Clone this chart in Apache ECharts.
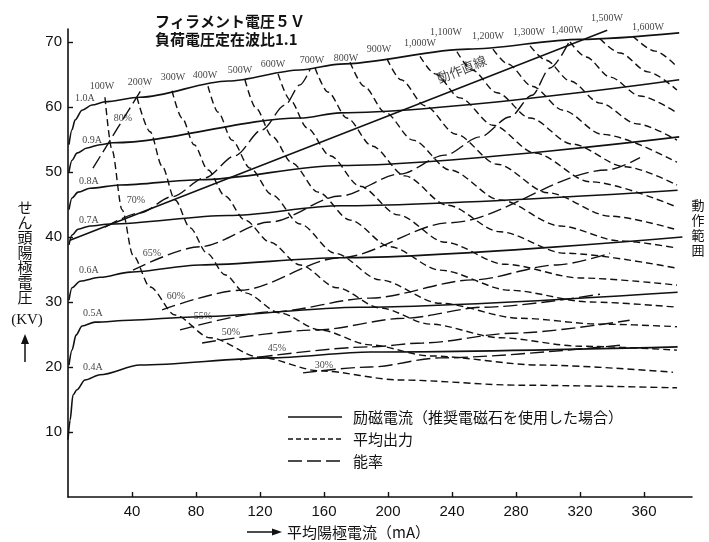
<!DOCTYPE html>
<html><head><meta charset="utf-8">
<script src="https://cdn.jsdelivr.net/npm/echarts@6/dist/echarts.min.js"></script>
<style>html,body{margin:0;padding:0;background:#fff}#c{width:709px;height:542px}</style>
</head><body><div id="c"></div>
<script>
// ---- axis ticks ----
const xTicks = [40, 80, 120, 160, 200, 240, 280, 320, 360];
const yTicks = [10, 20, 30, 40, 50, 60, 70];

// ---- excitation current curves (mA, KV) ----
const exc04 = [[0,8.8],[1.3,11.8],[3.1,15.7],[5.6,16.5],[10.6,18.0],[20,18.8],[45,20.3],[126,21.4],[189,22.3],[381,23.1]];
const exc05 = [[0.6,20.3],[2.5,22.6],[5,24.9],[8.8,26.3],[16.9,26.9],[38.8,27.2],[78,27.7],[182,29.2],[381,31.5]];
const exc06 = [[0.6,30.3],[2.5,32.2],[7.5,33.2],[20,33.8],[38.8,34.6],[82.5,35.7],[170,36.8],[384,40.0]];
const exc07 = [[0.6,38.8],[2.5,40.3],[6.3,41.2],[13.8,41.7],[26.3,42.0],[100,43.3],[170,44.8],[381,47.2]];
const exc08 = [[0.6,44.2],[2.5,46.0],[6.3,46.9],[13.8,47.5],[32.5,48.0],[82.5,48.8],[170,51.0],[382,55.4]];
const exc09 = [[0.6,50.0],[2.5,51.8],[5.6,52.9],[11.9,53.7],[20,54.2],[28.1,54.5],[145,58.3],[170,59.1],[382,64.2]];
const exc10 = [[0.6,54.2],[2.5,56.5],[4.4,58.0],[8.8,59.5],[15,60.3],[23.1,60.8],[45,61.5],[100,64.0],[145,65.7],[170,66.6],[250,68.9],[320,70.4],[382,71.4]];
const excNames = ['0.4A','0.5A','0.6A','0.7A','0.8A','0.9A','1.0A'];
const excLabelPos = [[15.6,20.0],[15.6,28.2],[13.1,34.9],[13.1,42.6],[13.1,48.5],[15,54.9],[10.6,61.4]];

// ---- operating line ----
const opLine = [[1.25,39.5],[337,71.8]];

// ---- average output power curves ----
const pw100 = [[23.1,61.5],[27.5,53.4],[33.8,44.2],[40.6,37.2],[51.3,32.3],[66.9,28.0],[88.8,24.5],[120,21.5],[157.5,19.4],[207.5,18.0],[282.5,17.2],[380.6,16.8]];
const pw200 = [[43.1,61.5],[51.3,56.2],[58.8,50.9],[66.9,45.7],[76.3,41.4],[86.9,37.5],[98.1,34.2],[110.6,31.4],[132.5,28.3],[157.5,25.7],[188.8,23.4],[226.3,21.7],[295,20.3],[378.1,19.2]];
const pw300 = [[65,62.5],[71.3,58.3],[78.8,54.2],[87.5,50.3],[98.1,46.3],[110.6,42.6],[126.3,39.2],[145,35.7],[168.1,32.2],[195,29.1],[226.3,26.6],[270,24.5],[320,23.2],[380.6,22.6]];
const pw400 = [[87.5,63.2],[93.8,59.2],[102.5,54.9],[113.8,50.6],[127.5,46.5],[145,42.0],[166.9,37.5],[195,33.4],[232.5,29.8],[282.5,27.5],[332.5,26.6],[380.6,26.2]];
const pw500 = [[110.6,64.2],[117.5,59.8],[127.5,55.5],[140,51.4],[156.3,46.9],[176.3,42.6],[201.3,38.5],[232.5,34.9],[276.3,31.8],[326.3,30.0],[380.6,29.2]];
const pw600 = [[131.3,65.1],[138.8,61.1],[149.4,56.8],[163.8,52.5],[182.5,47.8],[206.3,43.4],[235.6,39.2],[273.1,35.8],[320,33.7],[380.6,32.6]];
const pw700 = [[154.4,66.0],[162.5,62.3],[174.4,58.3],[190,54.0],[210.6,49.4],[236.9,44.9],[270,40.8],[310.6,37.5],[380.6,35.2]];
const pw800 = [[176.3,66.9],[185,63.2],[198.1,59.2],[215.6,54.9],[238.8,50.3],[270,45.7],[307.5,41.7],[345,39.4],[380.6,38.3]];
const pw900 = [[199.4,67.4],[208.1,64.2],[223.1,60.2],[242.5,55.8],[268.1,51.2],[300,46.8],[338.8,43.2],[380.6,41.1]];
const pw1000 = [[220,67.8],[229.4,65.1],[245,61.4],[265.6,57.2],[291.9,52.9],[326.3,48.5],[380.6,44.6]];
const pw1100 = [[243.1,68.5],[252.5,65.7],[268.1,62.2],[288.8,58.3],[315,54.3],[348.1,50.8],[380.6,48.0]];
const pw1200 = [[265.6,68.9],[275,66.6],[290,63.2],[309.4,59.5],[333.8,55.8],[380.6,51.5]];
const pw1300 = [[288.8,69.4],[298.8,67.2],[313.8,64.0],[332.5,60.6],[355.6,57.4],[380.6,54.9]];
const pw1400 = [[313.8,70.0],[323.8,67.7],[338.8,64.6],[357.5,61.7],[380.6,59.1]];
const pw1500 = [[332.5,70.5],[345,68.3],[362.5,65.4],[380.6,62.6]];
const pw1600 = [[353.1,70.9],[366.9,68.6],[380.6,66.2]];
const pwNames = ['100W','200W','300W','400W','500W','600W','700W','800W','900W','1,000W','1,100W','1,200W','1,300W','1,400W','1,500W','1,600W'];
const pwLabelPos = [[21.3,63.1],[45,63.8],[65.6,64.6],[85.6,64.8],[107.5,65.7],[128.1,66.5],[152.5,67.2],[173.8,67.5],[194.4,68.8],[220,69.8],[236.3,71.5],[262.5,70.9],[288.1,71.5],[311.9,71.8],[336.9,73.7],[362.5,72.3]];

// ---- efficiency curves ----
const ef80 = [[15.6,50.6],[46.9,63.1]];
const ef70 = [[23.1,41.5],[45,43.7],[65,46.2],[85.6,49.1],[104.4,52.5],[121.3,56.5],[135.6,60.3],[145,63.4],[151.3,65.8]];
const ef65 = [[40.6,34.9],[82.5,38.5],[126.3,42.3],[170,46.3],[207.5,49.7],[235.6,52.6],[257.5,55.4],[276.3,58.5],[290,61.8],[301.3,66.0],[313.8,70.3]];
const ef60 = [[58.8,28.8],[107.5,31.8],[170,36.8],[238.8,42.2],[336.9,50.3],[357.5,52.2]];
const ef55 = [[70,25.7],[128,28.5],[188.8,30.6],[253,33.4],[305.6,35.7],[338.8,37.5]];
const ef50 = [[83.8,23.7],[155.6,25.7],[210,27.5],[260,29.2],[332.5,31.2]];
const ef45 = [[107.5,21.1],[188.8,23.1],[221.9,23.7],[278,25.2],[351,27.2]];
const ef30 = [[146.9,19.1],[188.8,20],[232.5,21.4],[346.9,23.4]];
const efNames = ['80%','70%','65%','60%','55%','50%','45%','30%'];
const efLabelPos = [[34.4,58.3],[42.5,45.7],[52.5,37.5],[67.5,30.9],[84.4,27.8],[101.9,25.4],[130.6,22.8],[160,20.3]];

const opLabel = ['動作直線', 246, 65.8];

// ---------------------------------------------------------------
const INK = '#111';
const chart = echarts.init(document.getElementById('c'), null, {renderer: 'canvas'});
const series = [];
function addLine(data, type, width) {
  series.push({
    type: 'line', data: data, symbol: 'none', smooth: 0.3, smoothMonotone: 'x',
    lineStyle: {color: INK, width: width, type: type}, silent: true, z: 3
  });
}
[exc04, exc05, exc06, exc07, exc08, exc09, exc10].forEach(d => addLine(d, 'solid', 1.6));
addLine(opLine, 'solid', 1.5);
[pw100, pw200, pw300, pw400, pw500, pw600, pw700, pw800, pw900, pw1000, pw1100, pw1200, pw1300, pw1400, pw1500, pw1600]
  .forEach(d => addLine(d, [7, 4], 1.4));
[ef80, ef70, ef65, ef60, ef55, ef50, ef45, ef30].forEach(d => addLine(d, [14, 5], 1.4));

function addLabels(names, pos, size, rotate, family) {
  series.push({
    type: 'scatter', symbolSize: 1, clip: false, silent: true, z: 5,
    itemStyle: {color: 'rgba(0,0,0,0)'},
    data: names.map((n, i) => [pos[i][0], pos[i][1], n]),
    label: {
      show: true, position: 'inside', formatter: p => p.value[2],
      fontFamily: family || 'Liberation Serif', fontSize: size, color: INK, rotate: rotate || 0
    }
  });
}
addLabels(excNames, excLabelPos, 10);
addLabels(pwNames, pwLabelPos, 10);
addLabels(efNames, efLabelPos, 10);
addLabels([opLabel[0]], [[opLabel[1], opLabel[2]]], 13, 22, 'Noto Sans CJK JP');

const CJK = '"Noto Sans CJK JP", sans-serif';
const option = {
  animation: false,
  backgroundColor: '#fff',
  grid: {left: 68, right: 17, top: 29, bottom: 45, containLabel: false, outerBoundsMode: 'none'},
  xAxis: {
    type: 'value', min: 0, max: 390,
    splitLine: {show: false},
    axisLine: {lineStyle: {color: INK, width: 1.6}},
    axisTick: {inside: true, length: 5, customValues: xTicks, lineStyle: {color: INK, width: 1.4}},
    axisLabel: {customValues: xTicks, margin: 7, fontFamily: 'Liberation Sans', fontSize: 15, color: INK}
  },
  yAxis: {
    type: 'value', min: 0, max: 72,
    splitLine: {show: false},
    axisLine: {lineStyle: {color: INK, width: 1.6}},
    axisTick: {inside: true, length: 5, customValues: yTicks, lineStyle: {color: INK, width: 1.4}},
    axisLabel: {customValues: yTicks, margin: 6, fontFamily: 'Liberation Sans', fontSize: 15, color: INK}
  },
  series: series,
  graphic: [
    {type: 'text', left: 155, top: 14, style: {text: 'フィラメント電圧５Ｖ', font: 'bold 15px ' + CJK, fill: INK}},
    {type: 'text', left: 155, top: 32, style: {text: '負荷電圧定在波比1.1', font: 'bold 15px ' + CJK, fill: INK}},
    {type: 'text', x: 25, y: 200, style: {text: 'せ\nん\n頭\n陽\n極\n電\n圧', font: '15px ' + CJK, fill: INK, align: 'center', lineHeight: 15}},
    {type: 'text', x: 27, y: 320, style: {text: '(KV)', font: '15px "Liberation Serif"', fill: INK, align: 'center', verticalAlign: 'middle'}},
    {type: 'line', shape: {x1: 25, y1: 362, x2: 25, y2: 342}, style: {stroke: INK, lineWidth: 1.5}},
    {type: 'polygon', shape: {points: [[21, 344], [25, 334], [29, 344]]}, style: {fill: INK}},
    {type: 'line', shape: {x1: 247, y1: 532, x2: 274, y2: 532}, style: {stroke: INK, lineWidth: 1.5}},
    {type: 'polygon', shape: {points: [[272, 528.5], [282, 532], [272, 535.5]]}, style: {fill: INK}},
    {type: 'text', x: 287, y: 532, style: {text: '平均陽極電流（mA）', font: '15px ' + CJK, fill: INK, verticalAlign: 'middle'}},
    {type: 'text', x: 698, y: 198, style: {text: '動\n作\n範\n囲', font: '13px ' + CJK, fill: INK, align: 'center', lineHeight: 15}},
    {type: 'line', shape: {x1: 288, y1: 417, x2: 342, y2: 417}, style: {stroke: INK, lineWidth: 1.6}},
    {type: 'line', shape: {x1: 288, y1: 439, x2: 342, y2: 439}, style: {stroke: INK, lineWidth: 1.4, lineDash: [5, 3]}},
    {type: 'line', shape: {x1: 288, y1: 461, x2: 342, y2: 461}, style: {stroke: INK, lineWidth: 1.4, lineDash: [14, 5]}},
    {type: 'text', x: 353, y: 417, style: {text: '励磁電流（推奨電磁石を使用した場合）', font: '15px ' + CJK, fill: INK, verticalAlign: 'middle'}},
    {type: 'text', x: 353, y: 439, style: {text: '平均出力', font: '15px ' + CJK, fill: INK, verticalAlign: 'middle'}},
    {type: 'text', x: 353, y: 461, style: {text: '能率', font: '15px ' + CJK, fill: INK, verticalAlign: 'middle'}}
  ]
};
chart.setOption(option);
</script></body></html>
